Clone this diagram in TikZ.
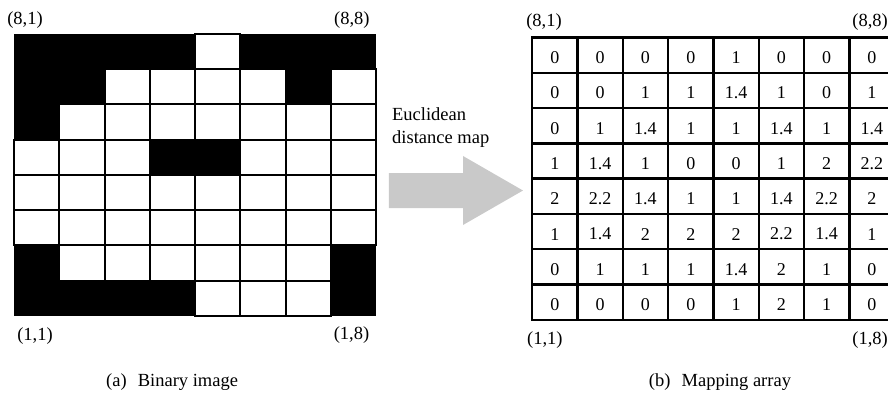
\documentclass[tikz,border=0pt]{standalone}
\usepackage{fontspec}
\setmainfont{Liberation Serif}
\usepackage{tikz}

\definecolor{arrowgray}{gray}{0.79}

\begin{document}
\begin{tikzpicture}[x=45.3pt,y=35.3pt,
    lbl/.style={font=\fontsize{18.5}{23}\selectfont, inner sep=0pt},
    num/.style={font=\fontsize{18}{20}\selectfont, inner sep=0pt}]
    \useasboundingbox (-0.309,-2.38) rectangle (19.294,8.952);
    % binary image: 1 = white pixel, top row first
    \fill (0,0) rectangle (8,8);
    \foreach \row [count=\r] in {{0,0,0,0,1,0,0,0},{0,0,1,1,1,1,0,1},{0,1,1,1,1,1,1,1},{1,1,1,0,0,1,1,1},
        {1,1,1,1,1,1,1,1},{1,1,1,1,1,1,1,1},{0,1,1,1,1,1,1,0},{0,0,0,0,1,1,1,0}}
      \foreach \v [count=\c] in \row
        {\ifnum\v=1 \draw[fill=white,line width=2pt] (\c-1,8-\r) rectangle ++(1,1); \fi}
    \node[lbl] (b81) at (0.243,8.385) {(8,1)};
    \node[lbl] (b88) at (7.46,8.385) {(8,8)};
    \node[lbl] (b11) at (0.464,-0.567) {(1,1)};
    \node[lbl] (b18) at (7.45,-0.538) {(1,8)};
    \node[lbl] (capa) at (3.49,-1.87) {(a)\hspace{0.6em}Binary image};
    % the arrow in between
    \fill[arrowgray] (8.278,3.059) -- (9.912,3.059) -- (9.912,2.578) -- (11.236,3.555)
      -- (9.912,4.533) -- (9.912,4.051) -- (8.278,4.051) -- cycle;
    \node[lbl,align=left,anchor=north west] (edm) at (8.344,5.921) {Euclidean\\distance map};
    % mapping array
    \begin{scope}[shift={(11.44,-0.11)}]
      \foreach \row [count=\r] in {{0,0,0,0,1,0,0,0},{0,0,1,1,1.4,1,0,1},{0,1,1.4,1,1,1.4,1,1.4},{1,1.4,1,0,0,1,2,2.2},
          {2,2.2,1.4,1,1,1.4,2.2,2},{1,1.4,2,2,2,2.2,1.4,1},{0,1,1,1,1.4,2,1,0},{0,0,0,0,1,2,1,0}}
        \foreach \v [count=\c] in \row {
          \draw[line width=2.4pt] (\c-1,8-\r) rectangle ++(1,1);
          \node[num] (m-\r-\c) at (\c-0.5,8.43-\r) {\v};
        }
    \end{scope}
    \node[lbl] (m81) at (11.70,8.314) {(8,1)};
    \node[lbl] (m88) at (18.90,8.33) {(8,8)};
    \node[lbl] (m11) at (11.72,-0.68) {(1,1)};
    \node[lbl] (m18) at (18.90,-0.68) {(1,8)};
    \node[lbl] (capb) at (15.585,-1.87) {(b)\hspace{0.6em}Mapping array};
\end{tikzpicture}
\end{document}
